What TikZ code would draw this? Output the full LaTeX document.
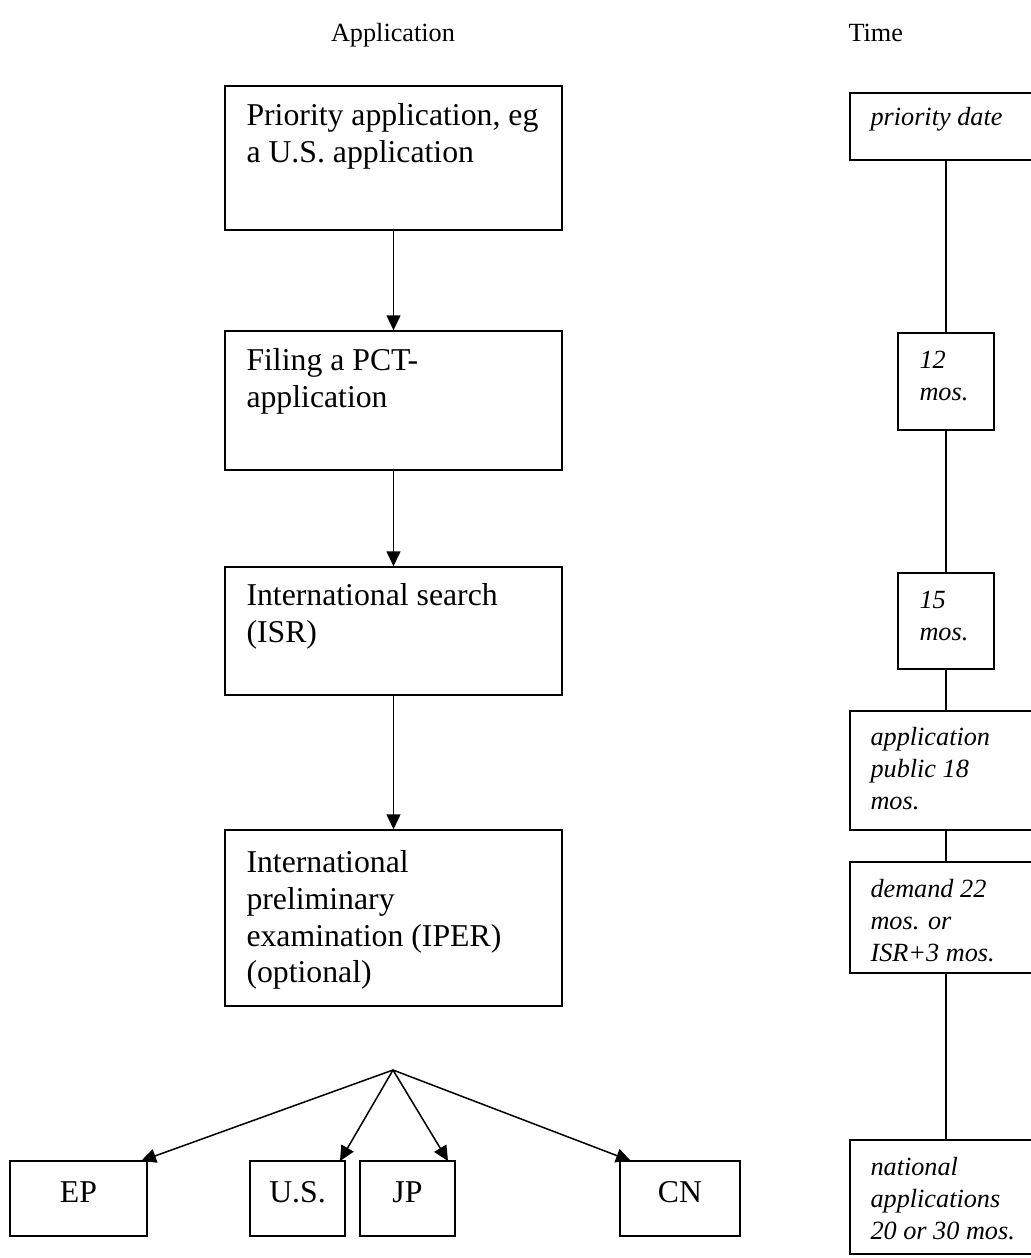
\documentclass[tikz,border=0pt]{standalone}
\usepackage{fontspec}
\setmainfont{Liberation Serif}
\usetikzlibrary{arrows.meta,fit,calc}
\begin{document}
\begin{tikzpicture}[x=0.4pt,y=-0.4pt,
  box/.style={draw, line width=0.6pt, inner sep=0pt, rectangle},
  lt/.style={font=\fontsize{12.7}{14.7}\selectfont, align=left, inner sep=0pt, anchor=north west},
  ct/.style={font=\fontsize{12.7}{14.7}\selectfont, inner sep=0pt, anchor=base},
  rt/.style={font=\fontsize{10.5}{12.7}\selectfont\itshape, align=left, inner sep=0pt, anchor=north west},
  hd/.style={font=\fontsize{10.5}{12.7}\selectfont, inner sep=0pt},
  arr/.style={line width=0.6pt, -{Triangle[length=6pt,width=5.6pt]}},
  ln/.style={line width=0.6pt}]
\useasboundingbox (0,0) rectangle (1031,1258);
\clip (0,0) rectangle (1031,1258);

% headings
\node[hd, anchor=base] (h1) at (393,42) {Application};
\node[hd, anchor=base west] (h2) at (848,42) {Time};

% left column
\node[box, fit={(225,86)(562,230)}] (b1) {};
\node[lt] (t1) at (246,103) {Priority application, eg\\a U.S. application};
\node[box, fit={(225,331)(562,470)}] (b2) {};
\node[lt] (t2) at (246,348) {Filing a PCT-\\application};
\node[box, fit={(225,567)(562,695)}] (b3) {};
\node[lt] (t3) at (246,583) {International search\\(ISR)};
\node[box, fit={(225,830)(562,1006)}] (b4) {};
\node[lt] (t4) at (246,850) {International\\preliminary\\examination (IPER)\\(optional)};

\draw[arr] (b1.south) -- (b2.north);
\draw[arr] (b2.south) -- (b3.north);
\draw[arr] (b3.south) -- (b4.north);

% bottom boxes
\coordinate (apex) at (393,1070);
\node[box, fit={(10,1161)(147,1236)}] (ep) {};
\node[ct] (tep) at (ep.center |- 0,1202) {EP};
\node[box, fit={(250,1161)(345,1236)}] (us) {};
\node[ct] (tus) at (us.center |- 0,1202) {U.S.};
\node[box, fit={(360,1161)(455,1236)}] (jp) {};
\node[ct] (tjp) at (jp.center |- 0,1202) {JP};
\node[box, fit={(620,1161)(740,1236)}] (cn) {};
\node[ct] (tcn) at (cn.center |- 0,1202) {CN};

\coordinate (tipep) at (141,1161);
\coordinate (tipus) at (340,1161);
\coordinate (tipjp) at (448,1161);
\coordinate (tipcn) at (631,1161);
\draw[arr] (apex) -- (tipep);
\draw[arr] (apex) -- (tipus);
\draw[arr] (apex) -- (tipjp);
\draw[arr] (apex) -- (tipcn);

% right column (time)
\node[box, fit={(850,93)(1060,160)}] (pd) {};
\node[rt] (tpd) at (870,107) {priority date};
\node[box, fit={(898,333)(994,430)}] (m12) {};
\node[rt] (t12) at (919,351) {12\\mos.};
\node[box, fit={(898,573)(994,669)}] (m15) {};
\node[rt] (t15) at (919,591) {15\\mos.};
\node[box, fit={(850,711)(1060,830)}] (pub) {};
\node[rt] (tpub) at (870,727) {application\\public 18\\mos.};
\node[box, fit={(850,862)(1060,973)}] (dem) {};
\node[rt] (tdem) at (870,879) {demand 22\\mos. or\\ISR+3 mos.};
\node[box, fit={(850,1140)(1060,1254)}] (nat) {};
\node[rt] (tnat) at (870,1157) {national\\applications\\20 or 30 mos.};

\draw[ln] (pd.south -| m12.north) -- (m12.north);
\draw[ln] (m12.south) -- (m15.north);
\draw[ln] (m15.south) -- (pub.north -| m15.south);
\draw[ln] (pub.south -| m15.south) -- (dem.north -| m15.south);
\draw[ln] (dem.south -| m15.south) -- (nat.north -| m15.south);
\end{tikzpicture}
\end{document}
